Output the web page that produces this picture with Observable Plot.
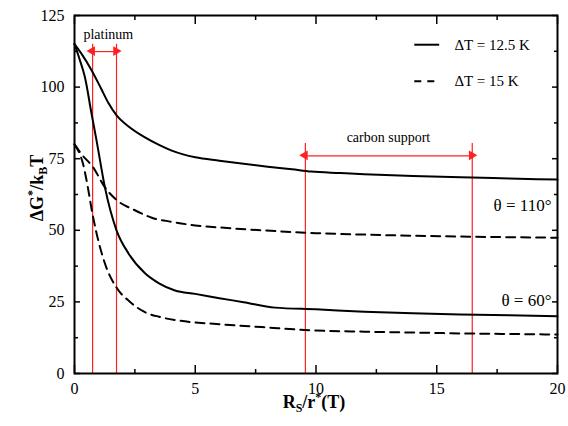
<!DOCTYPE html>
<html>
<head>
<meta charset="utf-8">
<script src="https://cdn.jsdelivr.net/npm/d3@7"></script>
<script src="https://cdn.jsdelivr.net/npm/@observablehq/plot@0.6"></script>
<style>
  body { margin: 0; background: #fff; }
  #chart svg, #chart svg text, #chart svg tspan { font-family: "Liberation Serif", "Times New Roman", "DejaVu Serif", serif !important; }
</style>
</head>
<body>
<div id="chart"></div>
<script>
// ---- data ----
const xSolid110 = [0, 0.3, 0.7, 1.1, 1.4, 1.75, 2.2, 2.9, 3.5, 4, 4.5, 5, 6, 7, 8, 9, 9.8, 11, 12, 14, 16, 18, 20];
const ySolid110 = [115, 111.5, 106, 99.5, 94.5, 90, 86.5, 82.5, 79.8, 77.9, 76.5, 75.5, 74.3, 73.2, 72.2, 71.3, 70.5, 70, 69.6, 69, 68.5, 68.1, 67.7];

const xSolid60 = [0, 0.2, 0.43, 0.7, 0.91, 1.26, 1.74, 2.23, 2.92, 3.5, 4.16, 5, 6, 7, 8.3, 10, 12, 14, 16, 18, 20];
const ySolid60 = [115, 110, 103.5, 91, 81.5, 65, 50, 42, 35, 31.5, 29, 27.8, 26.3, 24.9, 23, 22.4, 21.6, 21, 20.6, 20.3, 20];

const xDash110 = [0, 0.3, 0.77, 1.26, 1.74, 2.5, 3.2, 4, 5, 6, 7.76, 10, 12, 14, 16, 18, 20];
const yDash110 = [80, 76.5, 72, 65, 60.6, 57, 54.4, 53, 51.7, 51, 50, 49, 48.5, 48.1, 47.8, 47.6, 47.4];

const xDash60 = [0, 0.2, 0.36, 0.5, 0.77, 1.26, 1.74, 2.3, 2.92, 3.5, 4.3, 6, 7.76, 10, 12, 14, 16, 18, 20];
const yDash60 = [80, 77, 73, 67.4, 54.6, 38.4, 30, 25, 21.4, 19.8, 18.5, 17.2, 16.2, 15, 14.6, 14.3, 14, 13.8, 13.6];

const xMajorTicks = [0, 5, 10, 15, 20];
const xMinorTicks = [2.5, 7.5, 12.5, 17.5];
const yMajorTicks = [0, 25, 50, 75, 100, 125];
const yMinorTicks = [12.5, 37.5, 62.5, 87.5, 112.5];

// red region markers: [x left, x right], top of vertical lines, arrow level
const platinumBounds = [0.75, 1.74];
const platinumTop = 115;
const platinumArrowY = 112.4;
const carbonBounds = [9.56, 16.47];
const carbonTop = 80.3;
const carbonArrowY = 76;

const regionLabels = [
  {text: "platinum", x: 1.4, y: 118.5},
  {text: "carbon support", x: 13.0, y: 82.4}
];
const thetaLabels = [
  {text: "θ = 110°", x: 19.75, y: 58.5},
  {text: "θ = 60°", x: 19.75, y: 25.3}
];
const legendLabels = ["ΔT = 12.5 K", "ΔT = 15 K"];
const legendRows = [114.8, 102];

const FONT = "'Liberation Serif', 'Times New Roman', 'DejaVu Serif', serif";

// ---- build series ----
const series = [
  {x: xSolid110, y: ySolid110, dash: null},
  {x: xSolid60, y: ySolid60, dash: null},
  {x: xDash110, y: yDash110, dash: "9,6"},
  {x: xDash60, y: yDash60, dash: "9,6"}
];

const lineMarks = series.map(s => Plot.line(s.x.map((x, i) => ({x, y: s.y[i]})), {
  x: "x", y: "y", stroke: "black", strokeWidth: 2, strokeDasharray: s.dash, curve: "monotone-x"
}));

const redLines = [
  ...platinumBounds.map(x => ({x, top: platinumTop})),
  ...carbonBounds.map(x => ({x, top: carbonTop}))
];
const arrows = [
  {x1: platinumBounds[0], x2: platinumBounds[1], y: platinumArrowY},
  {x1: carbonBounds[0], x2: carbonBounds[1], y: carbonArrowY}
];
const heads = arrows.flatMap(a => [
  {x: a.x1, y: a.y, rot: -90, dx: 3.5},
  {x: a.x2, y: a.y, rot: 90, dx: -3.5}
]);

const legendX = [14.07, 15.1, 15.73];
const legendData = legendLabels.map((text, i) => ({text, y: legendRows[i]}));

const chart = Plot.plot({
  width: 568,
  height: 426,
  marginLeft: 74,
  marginRight: 11,
  marginTop: 15,
  marginBottom: 53,
  style: {fontFamily: FONT, fontSize: "16px", color: "black", background: "white"},
  x: {domain: [0, 20]},
  y: {domain: [0, 125]},
  marks: [
    // red region lines
    Plot.ruleX(redLines, {x: "x", y1: 0, y2: "top", stroke: "#ff2020", strokeWidth: 1.2}),
    Plot.link(arrows, {x1: "x1", x2: "x2", y1: "y", y2: "y", stroke: "#ff2020", strokeWidth: 1.2}),
    Plot.dot(heads, {x: "x", y: "y", symbol: "triangle", rotate: "rot", dx: "dx", r: 3.6, fill: "#ff2020", stroke: "none"}),
    ...lineMarks,
    // annotations
    Plot.text(regionLabels, {x: "x", y: "y", text: "text", fontSize: 14, fill: "black"}),
    Plot.text(thetaLabels, {x: "x", y: "y", text: "text", fontSize: 17, textAnchor: "end", fill: "black"}),
    // legend
    Plot.link([legendData[0]], {x1: legendX[0], x2: legendX[1], y1: "y", y2: "y", stroke: "black", strokeWidth: 2}),
    Plot.link([legendData[1]], {x1: legendX[0], x2: legendX[1], y1: "y", y2: "y", stroke: "black", strokeWidth: 2, strokeDasharray: "7,6"}),
    Plot.text(legendData, {x: legendX[2], y: "y", text: "text", textAnchor: "start", fontSize: 15, fill: "black"}),
    // axes (ticks inward)
    Plot.axisX({ticks: xMajorTicks, tickSize: -8, tickPadding: 17, tickFormat: d => d, label: null, strokeWidth: 1.5}),
    Plot.axisX({ticks: xMinorTicks, tickSize: -4, tickFormat: () => "", label: null, strokeWidth: 1.5}),
    Plot.axisX({anchor: "top", ticks: xMajorTicks, tickSize: -8, tickFormat: () => "", label: null, strokeWidth: 1.5}),
    Plot.axisX({anchor: "top", ticks: xMinorTicks, tickSize: -4, tickFormat: () => "", label: null, strokeWidth: 1.5}),
    Plot.axisY({ticks: yMajorTicks, tickSize: -6, tickPadding: 16, tickFormat: d => d, label: null, strokeWidth: 1.5}),
    Plot.axisY({ticks: yMinorTicks, tickSize: -4, tickFormat: () => "", label: null, strokeWidth: 1.5}),
    Plot.axisY({anchor: "right", ticks: yMajorTicks, tickSize: -6, tickFormat: () => "", label: null, strokeWidth: 1.5}),
    Plot.axisY({anchor: "right", ticks: yMinorTicks, tickSize: -4, tickFormat: () => "", label: null, strokeWidth: 1.5}),
    Plot.frame({stroke: "black", strokeWidth: 2})
  ]
});

document.getElementById("chart").appendChild(chart);

// axis titles with sub/superscripts
const svg = d3.select(chart);
svg.attr("font-family", FONT);
const xt = svg.append("text")
  .attr("x", 314).attr("y", 408)
  .attr("text-anchor", "middle")
  .attr("font-weight", "bold").attr("font-size", 18).attr("fill", "black");
xt.append("tspan").text("R");
xt.append("tspan").attr("font-size", 12).attr("dy", 4).text("S");
xt.append("tspan").attr("dy", -4).text("/r");
xt.append("tspan").attr("font-size", 12).attr("dy", -7).text("*");
xt.append("tspan").attr("dy", 7).text("(T)");

const yt = svg.append("text")
  .attr("transform", "translate(43,188) rotate(-90)")
  .attr("text-anchor", "middle")
  .attr("font-weight", "bold").attr("font-size", 18).attr("fill", "black");
yt.append("tspan").text("ΔG");
yt.append("tspan").attr("font-size", 12).attr("dy", -7).text("*");
yt.append("tspan").attr("dy", 7).text("/k");
yt.append("tspan").attr("font-size", 12).attr("dy", 4).text("B");
yt.append("tspan").attr("dy", -4).text("T");

svg.selectAll("text, tspan").style("font-family", FONT);
</script>
</body>
</html>
